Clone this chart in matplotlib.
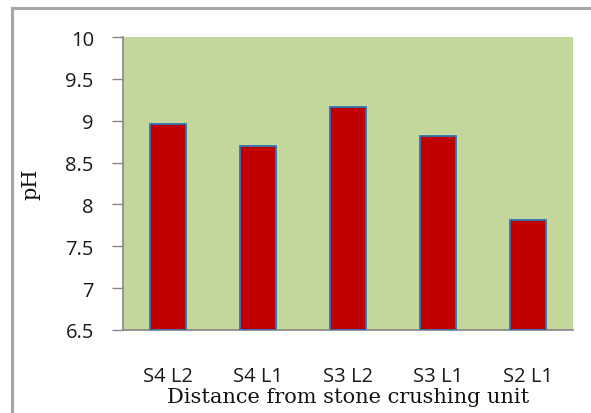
import matplotlib
matplotlib.use("Agg")
import matplotlib.pyplot as plt
from matplotlib.lines import Line2D

sites = ["S4 L2", "S4 L1", "S3 L2", "S3 L1", "S2 L1"]
ph_values = [8.96, 8.70, 9.16, 8.82, 7.81]
y_ticks = [6.5, 7, 7.5, 8, 8.5, 9, 9.5, 10]
y_tick_labels = ["6.5", "7", "7.5", "8", "8.5", "9", "9.5", "10"]

W, H = 591, 414
fig = plt.figure(figsize=(W / 100, H / 100), dpi=100)
fig.patch.set_facecolor("white")

# chart frame (left and top edges)
fig.add_artist(Line2D([12 / W, 12 / W], [0, 1 - 9 / H], color="#a6a6a6", lw=2.2,
                      transform=fig.transFigure))
fig.add_artist(Line2D([12 / W, 1], [1 - 9 / H, 1 - 9 / H], color="#a6a6a6", lw=2.2,
                      transform=fig.transFigure))

ax = fig.add_axes([123 / W, 1 - 331 / H, 450 / W, 293 / H])
ax.set_facecolor("#C4D79B")

x = range(len(sites))
ax.bar(x, [v - 6.5 for v in ph_values], bottom=6.5, width=0.4,
       color="#C00000", edgecolor="#2E75B6", linewidth=1.3, zorder=3)

ax.set_xlim(-0.5, len(sites) - 0.5)
ax.set_ylim(6.5, 10)
ax.set_yticks(y_ticks)
ax.set_yticklabels(y_tick_labels)
ax.set_xticks(list(x))
ax.set_xticklabels(sites)

for lbl in ax.get_yticklabels() + ax.get_xticklabels():
    lbl.set_fontfamily(["Open Sans", "DejaVu Sans"])
    lbl.set_fontsize(14.5)
    lbl.set_color("#1a1a1a")

ax.tick_params(axis="y", direction="out", length=8, width=1, color="#868686", pad=13)
ax.tick_params(axis="x", length=0, pad=26)

for side in ["top", "right"]:
    ax.spines[side].set_visible(False)
for side in ["left", "bottom"]:
    ax.spines[side].set_color("#868686")
    ax.spines[side].set_linewidth(1.2)

serif = ["DejaVu Serif", "Liberation Serif"]
ax.set_xlabel("Distance from stone crushing unit", family=serif,
              fontsize=15, color="#111111", labelpad=1)
ax.set_ylabel("pH", family=serif, fontsize=15, color="#111111", labelpad=18)

fig.savefig("out.png", dpi=100)
